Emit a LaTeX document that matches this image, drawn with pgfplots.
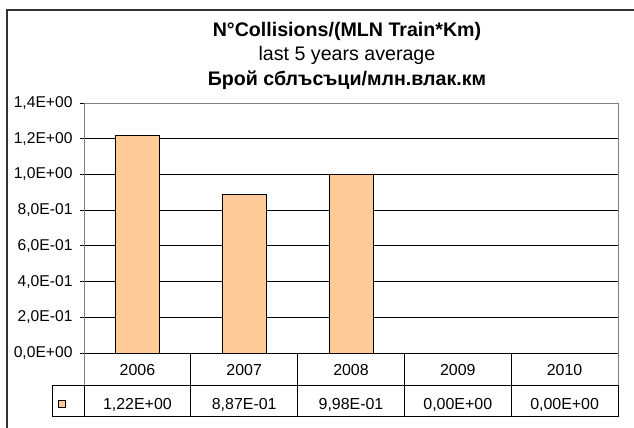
\documentclass[border=0pt]{standalone}
\usepackage{fontspec}
\setmainfont{Liberation Sans}
\usepackage{pgfplots}
\usepackage{pgfplotstable}
\pgfplotsset{compat=1.18}
\definecolor{barorange}{HTML}{FFCC99}
\definecolor{framegray}{HTML}{808080}

\pgfplotstableread{
x year value label
0 2006 1.22  1,22E+00
1 2007 0.887 8,87E-01
2 2008 0.998 9,98E-01
3 2009 0     0,00E+00
4 2010 0     0,00E+00
}\data

\begin{document}
\begin{tikzpicture}
\useasboundingbox (-84bp,-75bp) rectangle (550bp,353bp);
\begin{axis}[
  at={(0,0)}, anchor=south west,
  scale only axis, width=534bp, height=250bp,
  xmin=-0.5, xmax=4.5, ymin=0, ymax=1.4,
  ybar, bar width=44bp,
  clip=false,
  axis line style={draw=framegray, line width=0.8bp},
  tick pos=left, tick align=outside, major tick length=4bp,
  ytick={0,0.2,0.4,0.6,0.8,1.0,1.2,1.4},
  yticklabels={{0,0E+00},{2,0E-01},{4,0E-01},{6,0E-01},{8,0E-01},{1,0E+00},{1,2E+00},{1,4E+00}},
  ytick style={black, line width=0.8bp},
  yticklabel style={font=\fontsize{15.7}{18}\selectfont, xshift=-4bp},
  ymajorgrids, grid style={black, line width=0.8bp},
  xtick={0,1,2,3,4},
  xticklabels from table={\data}{year},
  xtick style={draw=none},
  xticklabel style={font=\fontsize{16}{18}\selectfont, anchor=center, yshift=-13.5bp},
  extra x ticks={0,1,2,3,4},
  extra x tick labels={{1,22E+00},{8,87E-01},{9,98E-01},{0,00E+00},{0,00E+00}},
  extra x tick style={tick style={draw=none}, tick label style={yshift=-34bp}},
  title={{\bfseries N°Collisions/(MLN Train*Km)}\\last 5 years average\\{\bfseries Брой сблъсъци/млн.влак.км}},
  title style={font=\fontsize{19.7}{24.8}\selectfont, align=center, at={(0.4925,1)}, anchor=south, yshift=4bp},
  legend style={at={(-0.0412,-0.202)}, anchor=center, draw=none, fill=none, inner sep=0pt, outer sep=0pt, nodes={inner sep=0pt}},
]
\addplot[fill=barorange, draw=black, line width=0.8bp,
  legend image code/.code={\draw[fill=barorange, draw=black, line width=0.8bp] (-3.5bp,-3.5bp) rectangle (3.5bp,3.5bp);}]
  table[x=x, y=value]{\data};
\addlegendentry{}
% data table grid
\draw[black, line width=0.8bp] (axis cs:-0.5,0) -- (axis cs:4.5,0);
\pgfplotsinvokeforeach{0.5,1.5,2.5,3.5}{
  \draw[black, line width=0.8bp] (axis cs:#1,0) -- ([yshift=-63bp]axis cs:#1,0);
}
\draw[framegray, line width=0.8bp] (axis cs:-0.5,0) -- ([yshift=-32.5bp]axis cs:-0.5,0);
\draw[framegray, line width=0.8bp] (axis cs:4.5,0) -- ([yshift=-32.5bp]axis cs:4.5,0);
\draw[black, line width=0.8bp] ([xshift=-32bp,yshift=-32.5bp]axis cs:-0.5,0) rectangle ([yshift=-63bp]axis cs:4.5,0);
\draw[black, line width=0.8bp] ([yshift=-32.5bp]axis cs:-0.5,0) -- ([yshift=-63bp]axis cs:-0.5,0);
\end{axis}
\draw[black!80, line width=1.5bp] (-77bp,-76bp) -- (-77bp,343bp) -- (551bp,343bp);
\end{tikzpicture}
\end{document}
